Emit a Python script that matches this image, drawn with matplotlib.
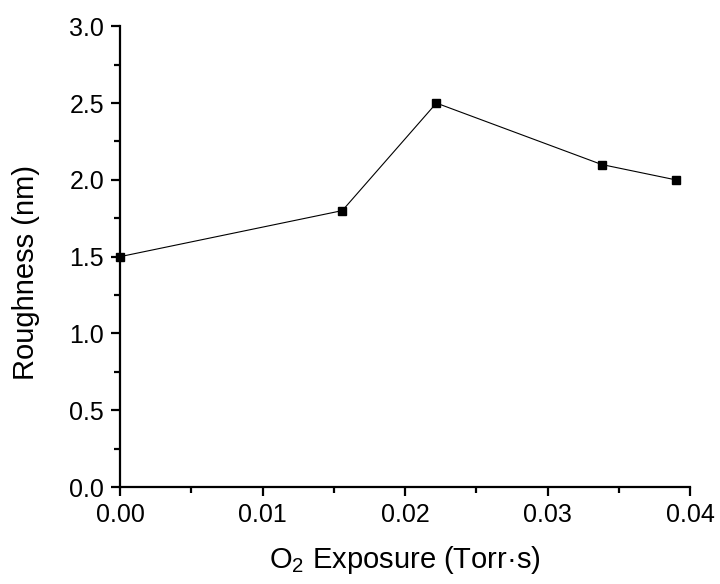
import matplotlib

matplotlib.use("Agg")

import matplotlib.pyplot as plt
from matplotlib.ticker import MultipleLocator, FormatStrFormatter

exposure = [0.0, 0.0156, 0.0222, 0.0338, 0.0390]
roughness = [1.5, 1.8, 2.5, 2.1, 2.0]

plt.rcParams["font.family"] = ["Liberation Sans", "DejaVu Sans"]
plt.rcParams["mathtext.fontset"] = "custom"
plt.rcParams["mathtext.rm"] = "Liberation Sans"

fig = plt.figure(figsize=(7.2, 5.84), dpi=100)
ax = fig.add_axes([0.1667, 0.166, 0.7917, 0.789])

ax.plot(exposure, roughness, color="black", linewidth=0.8, marker="s",
        markersize=6, markerfacecolor="black", markeredgecolor="black",
        clip_on=False, zorder=3)

ax.set_xlim(0.0, 0.04)
ax.set_ylim(0.0, 3.0)
ax.xaxis.set_major_locator(MultipleLocator(0.01))
ax.xaxis.set_minor_locator(MultipleLocator(0.005))
ax.yaxis.set_major_locator(MultipleLocator(0.5))
ax.yaxis.set_minor_locator(MultipleLocator(0.25))
ax.xaxis.set_major_formatter(FormatStrFormatter("%.2f"))
ax.yaxis.set_major_formatter(FormatStrFormatter("%.1f"))

for side in ("top", "right"):
    ax.spines[side].set_visible(False)
for side in ("left", "bottom"):
    ax.spines[side].set_linewidth(1.6)

ax.tick_params(which="major", direction="out", length=6.5, width=1.6,
               labelsize=18, pad=5)
ax.tick_params(which="minor", direction="out", length=4, width=1.6)

ax.set_xlabel("O$_\\mathrm{2}$ Exposure (Torr\u00b7s)", fontsize=21, labelpad=12)
ax.set_ylabel("Roughness (nm)", fontsize=21, labelpad=12)
ax.yaxis.set_label_coords(-0.14, 0.466)

fig.savefig("out.png", dpi=100, facecolor="white")
